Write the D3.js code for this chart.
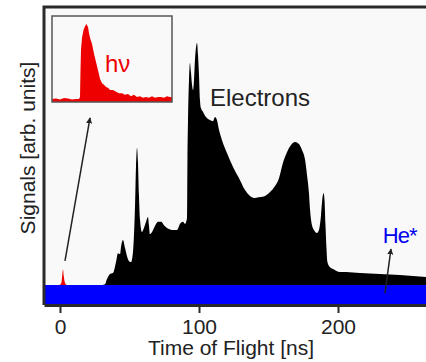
<!DOCTYPE html>
<html>
<head>
<meta charset="utf-8">
<script src="https://cdn.jsdelivr.net/npm/d3@7"></script>
<style>
  body { margin: 0; background: #fff; }
  svg text { font-family: "Liberation Sans", Arial, sans-serif; fill: #222; }
</style>
</head>
<body>
<div id="chart"></div>
<script>
// electron time-of-flight trace (ns, arb. units)
const electronTime = [-11.5, 28.8, 32.4, 33.8, 36.0, 38.1, 40.3, 41.7, 43.2, 43.9, 45.3, 46.8, 48.2, 49.6, 51.1,
  52.5, 53.2, 54.0, 54.7, 55.4, 56.1, 56.8, 57.6, 59.0, 60.4, 61.9, 63.3, 64.0, 64.7, 66.2, 68.3, 70.5, 72.7,
  74.8, 77.0, 80.6, 84.2, 86.3, 88.5, 89.9, 91.4, 91.7, 92.1, 92.8, 93.5, 94.2, 95.0, 95.7, 96.4, 97.1, 97.8,
  98.6, 99.3, 100.0, 100.7, 101.4, 102.9, 105.0, 107.9, 110.1, 111.5, 112.9, 114.4, 116.5, 120.1, 124.5, 129.5,
  133.1, 136.7, 140.3, 143.9, 147.5, 151.1, 154.7, 157.6, 160.4, 163.3, 166.2, 169.1, 171.9, 174.1, 176.3, 177.7,
  179.1, 179.9, 181.3, 182.7, 184.9, 186.3, 187.8, 188.8, 189.6, 190.3, 191.0, 191.7, 192.4, 193.5, 196.4, 201.4,
  205.8, 215.8, 230.2, 244.6, 263.3];
const electronSignal = [6.7, 6.7, 7.0, 8.7, 10.4, 10.7, 14.4, 17.4, 17.1, 19.5, 21.8, 19.1, 16.4, 14.8, 14.4,
  17.8, 23.2, 33.6, 46.9, 52.7, 48.0, 36.9, 28.5, 24.5, 25.8, 27.9, 29.5, 26.8, 23.8, 24.5, 26.5, 27.9, 27.9,
  26.8, 25.8, 25.2, 25.2, 27.2, 27.9, 27.2, 29.2, 48.7, 62.1, 75.5, 81.2, 78.2, 73.8, 72.1, 75.5, 82.2, 86.2,
  87.9, 83.9, 77.2, 68.8, 66.1, 64.8, 63.1, 62.1, 61.7, 63.1, 62.1, 58.7, 55.4, 51.0, 46.3, 41.9,
  38.6, 36.6, 35.9, 36.2, 36.6, 37.9, 39.9, 42.6, 47.7, 51.3, 53.7, 54.7, 54.0, 52.0, 48.7, 43.6,
  37.6, 31.9, 26.8, 25.2, 24.2, 25.2, 30.2, 35.9, 37.6, 35.2, 26.8, 19.1, 14.4, 13.1, 12.1, 11.1,
  11.1, 10.7, 10.4, 10.1, 9.4];

// photon peak near t = 0
const photonTime = [-0.4, 1.0, 1.7, 2.2, 2.7, 3.6, 5.0];
const photonSignal = [6.7, 7.4, 10.4, 11.9, 9.7, 7.4, 6.7];

// metastable He* level (flat)
const heTime = [-11.5, 263.3];
const heSignal = [6.7, 6.7];

// zoomed photon peak (inset)
const insetTime = [-3.0, -2.6, -2.2, -1.8, -1.4, -1.0, -0.6, -0.3, -0.2, -0.15, -0.1, 0.0, 0.15, 0.3, 0.45, 0.6,
  0.7, 0.8, 1.0, 1.2, 1.4, 1.6, 1.8, 2.0, 2.2, 2.4, 2.6, 2.8, 3.1, 3.4, 3.7, 4.0, 4.3, 4.6, 4.9, 5.2, 5.5, 5.8,
  6.1, 6.4, 6.7, 7.0, 7.3, 7.6, 7.9, 8.2, 8.5, 8.8, 9.0];
const insetSignal = [0.013, 0.02, 0.007, 0.026, 0.02, 0.007, 0.013, 0.013, 0.04, 0.39, 0.66, 0.82, 0.92, 0.97, 1.0,
  0.96, 0.88, 0.82, 0.74, 0.61, 0.5, 0.39, 0.28, 0.22, 0.2, 0.17, 0.16, 0.13, 0.13, 0.11, 0.09, 0.09, 0.07, 0.08,
  0.05, 0.07, 0.04, 0.05, 0.03, 0.04, 0.03, 0.05, 0.03, 0.04, 0.04, 0.03, 0.05, 0.04, 0.04];

const xTicks = [0, 100, 200];

const W = 426, H = 362;
const margin = { top: 7, right: 0, bottom: 57, left: 44 };
const width = W - margin.left - margin.right;
const height = H - margin.top - margin.bottom;

const svg = d3.select("#chart").append("svg")
  .attr("width", W).attr("height", H);

const defs = svg.append("defs");
defs.append("clipPath").attr("id", "plotclip")
  .append("rect").attr("width", width).attr("height", height);
defs.append("marker")
  .attr("id", "arrow").attr("viewBox", "0 0 10 10")
  .attr("refX", 9).attr("refY", 5)
  .attr("markerWidth", 6).attr("markerHeight", 8)
  .attr("markerUnits", "userSpaceOnUse")
  .attr("orient", "auto")
  .append("path").attr("d", "M0,0 L10,5 L0,10 z").attr("fill", "#222");

const g = svg.append("g").attr("transform", `translate(${margin.left},${margin.top})`);

const x = d3.scaleLinear().domain([-11.5, 263.3]).range([0, width]);
const y = d3.scaleLinear().domain([0, 100]).range([height, 0]);

g.append("rect").attr("width", width).attr("height", height).attr("fill", "#f9f9f9");

const plot = g.append("g").attr("clip-path", "url(#plotclip)");

const area = d3.area()
  .x(d => x(d[0])).y0(y(0)).y1(d => y(d[1]))
  .curve(d3.curveMonotoneX);

plot.append("path")
  .datum(d3.zip(electronTime, electronSignal))
  .attr("fill", "#000").attr("d", area);

// photon peak sits under the He* band, only its tip shows
plot.append("path")
  .datum(d3.zip(photonTime, photonSignal))
  .attr("fill", "#ee0000").attr("d", area);

plot.append("path")
  .datum(d3.zip(heTime, heSignal))
  .attr("fill", "#0000ff").attr("d", area.curve(d3.curveLinear));

// frame: top and left
g.append("path")
  .attr("d", `M0,${height} V0 H${width}`)
  .attr("fill", "none").attr("stroke", "#2a2a2a").attr("stroke-width", 3);

// bottom axis
const xAxis = g.append("g")
  .attr("transform", `translate(0,${height})`)
  .call(d3.axisBottom(x).tickValues(xTicks).tickSize(8).tickPadding(6).tickSizeOuter(0));
xAxis.select(".domain").attr("stroke", "#2a2a2a").attr("stroke-width", 3);
xAxis.selectAll(".tick line").attr("stroke", "#2a2a2a").attr("stroke-width", 2);
xAxis.selectAll(".tick text")
  .attr("font-size", 21).attr("font-family", "Liberation Sans, Arial, sans-serif").attr("fill", "#222");

svg.append("text")
  .attr("x", 231).attr("y", 355)
  .attr("text-anchor", "middle").attr("font-size", 21)
  .text("Time of Flight [ns]");

svg.append("text")
  .attr("transform", "translate(35,148) rotate(-90)")
  .attr("text-anchor", "middle").attr("font-size", 21)
  .text("Signals [arb. units]");

// labels
g.append("text")
  .attr("x", x(107.9)).attr("y", y(66.8))
  .attr("font-size", 24)
  .text("Electrons");

g.append("text")
  .attr("x", x(232.2)).attr("y", y(20.8))
  .attr("font-size", 22).attr("letter-spacing", -1).style("fill", "#0000ee")
  .text("He*");

// arrows
g.append("line")
  .attr("x1", x(3.6)).attr("y1", y(14.8)).attr("x2", x(21.6)).attr("y2", y(62.8))
  .attr("stroke", "#222").attr("stroke-width", 1.5).attr("marker-end", "url(#arrow)");
g.append("line")
  .attr("x1", x(233.8)).attr("y1", y(4.0)).attr("x2", x(238.1)).attr("y2", y(18.8))
  .attr("stroke", "#222").attr("stroke-width", 1.5).attr("marker-end", "url(#arrow)");

// inset
const inset = { left: 52, top: 16, w: 120, h: 86 };
const ig = svg.append("g").attr("transform", `translate(${inset.left},${inset.top})`);
const ix = d3.scaleLinear().domain([-3, 9]).range([0, inset.w]);
const iy = d3.scaleLinear().domain([0, 1]).range([84, 8]);

ig.append("rect").attr("width", inset.w).attr("height", inset.h)
  .attr("fill", "#f9f9f9");
ig.append("path")
  .datum(d3.zip(insetTime, insetSignal))
  .attr("fill", "#ee0000")
  .attr("d", d3.area().x(d => ix(d[0])).y0(inset.h).y1(d => iy(d[1])).curve(d3.curveLinear));
ig.append("rect").attr("width", inset.w).attr("height", inset.h)
  .attr("fill", "none").attr("stroke", "#555").attr("stroke-width", 1.5);
ig.append("text")
  .attr("x", 53).attr("y", 56)
  .attr("font-size", 24).style("fill", "#ee0000")
  .text("hν");
</script>
</body>
</html>
